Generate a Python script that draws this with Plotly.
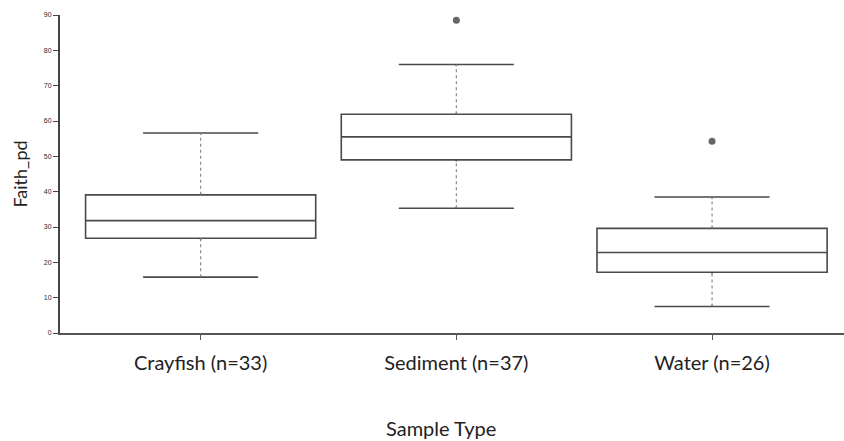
import plotly.graph_objects as go

categories = ["Crayfish (n=33)", "Sediment (n=37)", "Water (n=26)"]
q1 = [26.8, 49.0, 17.2]
median = [31.8, 55.5, 22.8]
q3 = [39.1, 61.9, 29.6]
lower_whisker = [15.8, 35.3, 7.5]
upper_whisker = [56.6, 76.0, 38.5]
outlier_x = ["Sediment (n=37)", "Water (n=26)"]
outlier_y = [88.5, 54.3]

y_tickvals = [0, 10, 20, 30, 40, 50, 60, 70, 80, 90]

BOX_W = 0.9
LINE = "#4a4a4a"

fig = go.Figure()
fig.add_trace(go.Box(
    x=categories, q1=q1, median=median, q3=q3,
    lowerfence=lower_whisker, upperfence=upper_whisker,
    width=BOX_W, whiskerwidth=0.5,
    fillcolor="white", line=dict(color=LINE, width=1.6),
    boxpoints=False, showlegend=False, hoverinfo="skip",
))

# cover solid whiskers and redraw dotted
for i, c in enumerate(categories):
    for a, b in ((q3[i], upper_whisker[i]), (lower_whisker[i], q1[i])):
        fig.add_trace(go.Scatter(
            x=[c, c], y=[a + 0.45, b - 0.45], mode="lines",
            line=dict(color="white", width=4), showlegend=False, hoverinfo="skip"))
        fig.add_trace(go.Scatter(
            x=[c, c], y=[a, b], mode="lines",
            line=dict(color="#8a8a8a", width=1.2, dash="dot"), showlegend=False, hoverinfo="skip"))

fig.add_trace(go.Scatter(
    x=outlier_x, y=outlier_y, mode="markers",
    marker=dict(color="#666666", size=7), showlegend=False, hoverinfo="skip"))

fig.update_layout(
    width=844, height=441,
    margin=dict(l=60, r=0, t=15, b=108, autoexpand=False),
    paper_bgcolor="white", plot_bgcolor="white",
    font=dict(family="Lato, Liberation Sans, sans-serif", color="#222222"),
    xaxis=dict(
        type="category", categoryorder="array", categoryarray=categories,
        range=[-0.55, 2.516], showgrid=False, zeroline=False,
        showline=True, linecolor="#555555", linewidth=1.5,
        ticks="outside", ticklen=5, tickcolor="#555555", tickwidth=1,
        ticklabelstandoff=6,
        tickfont=dict(size=20, color="#222222"),
    ),
    yaxis=dict(
        range=[0, 90], tickvals=y_tickvals, showgrid=False, zeroline=False,
        showline=True, linecolor="#444444", linewidth=2,
        ticks="outside", ticklen=5, tickcolor="#444444", tickwidth=1,
        tickfont=dict(size=7, color="#2a2a2a", family="Liberation Sans"),
        title=dict(text="Faith_pd", font=dict(size=18, color="#222222"), standoff=12),
    ),
    annotations=[dict(
        text="Sample Type", xref="paper", yref="paper",
        x=(441 - 60) / 784, y=-(428 - 333) / 318, xanchor="center", yanchor="middle",
        showarrow=False, font=dict(size=20, color="#222222"),
    )],
)

fig.write_html("out.html", config={"displayModeBar": False},
               post_script="document.body.style.margin='0';")
